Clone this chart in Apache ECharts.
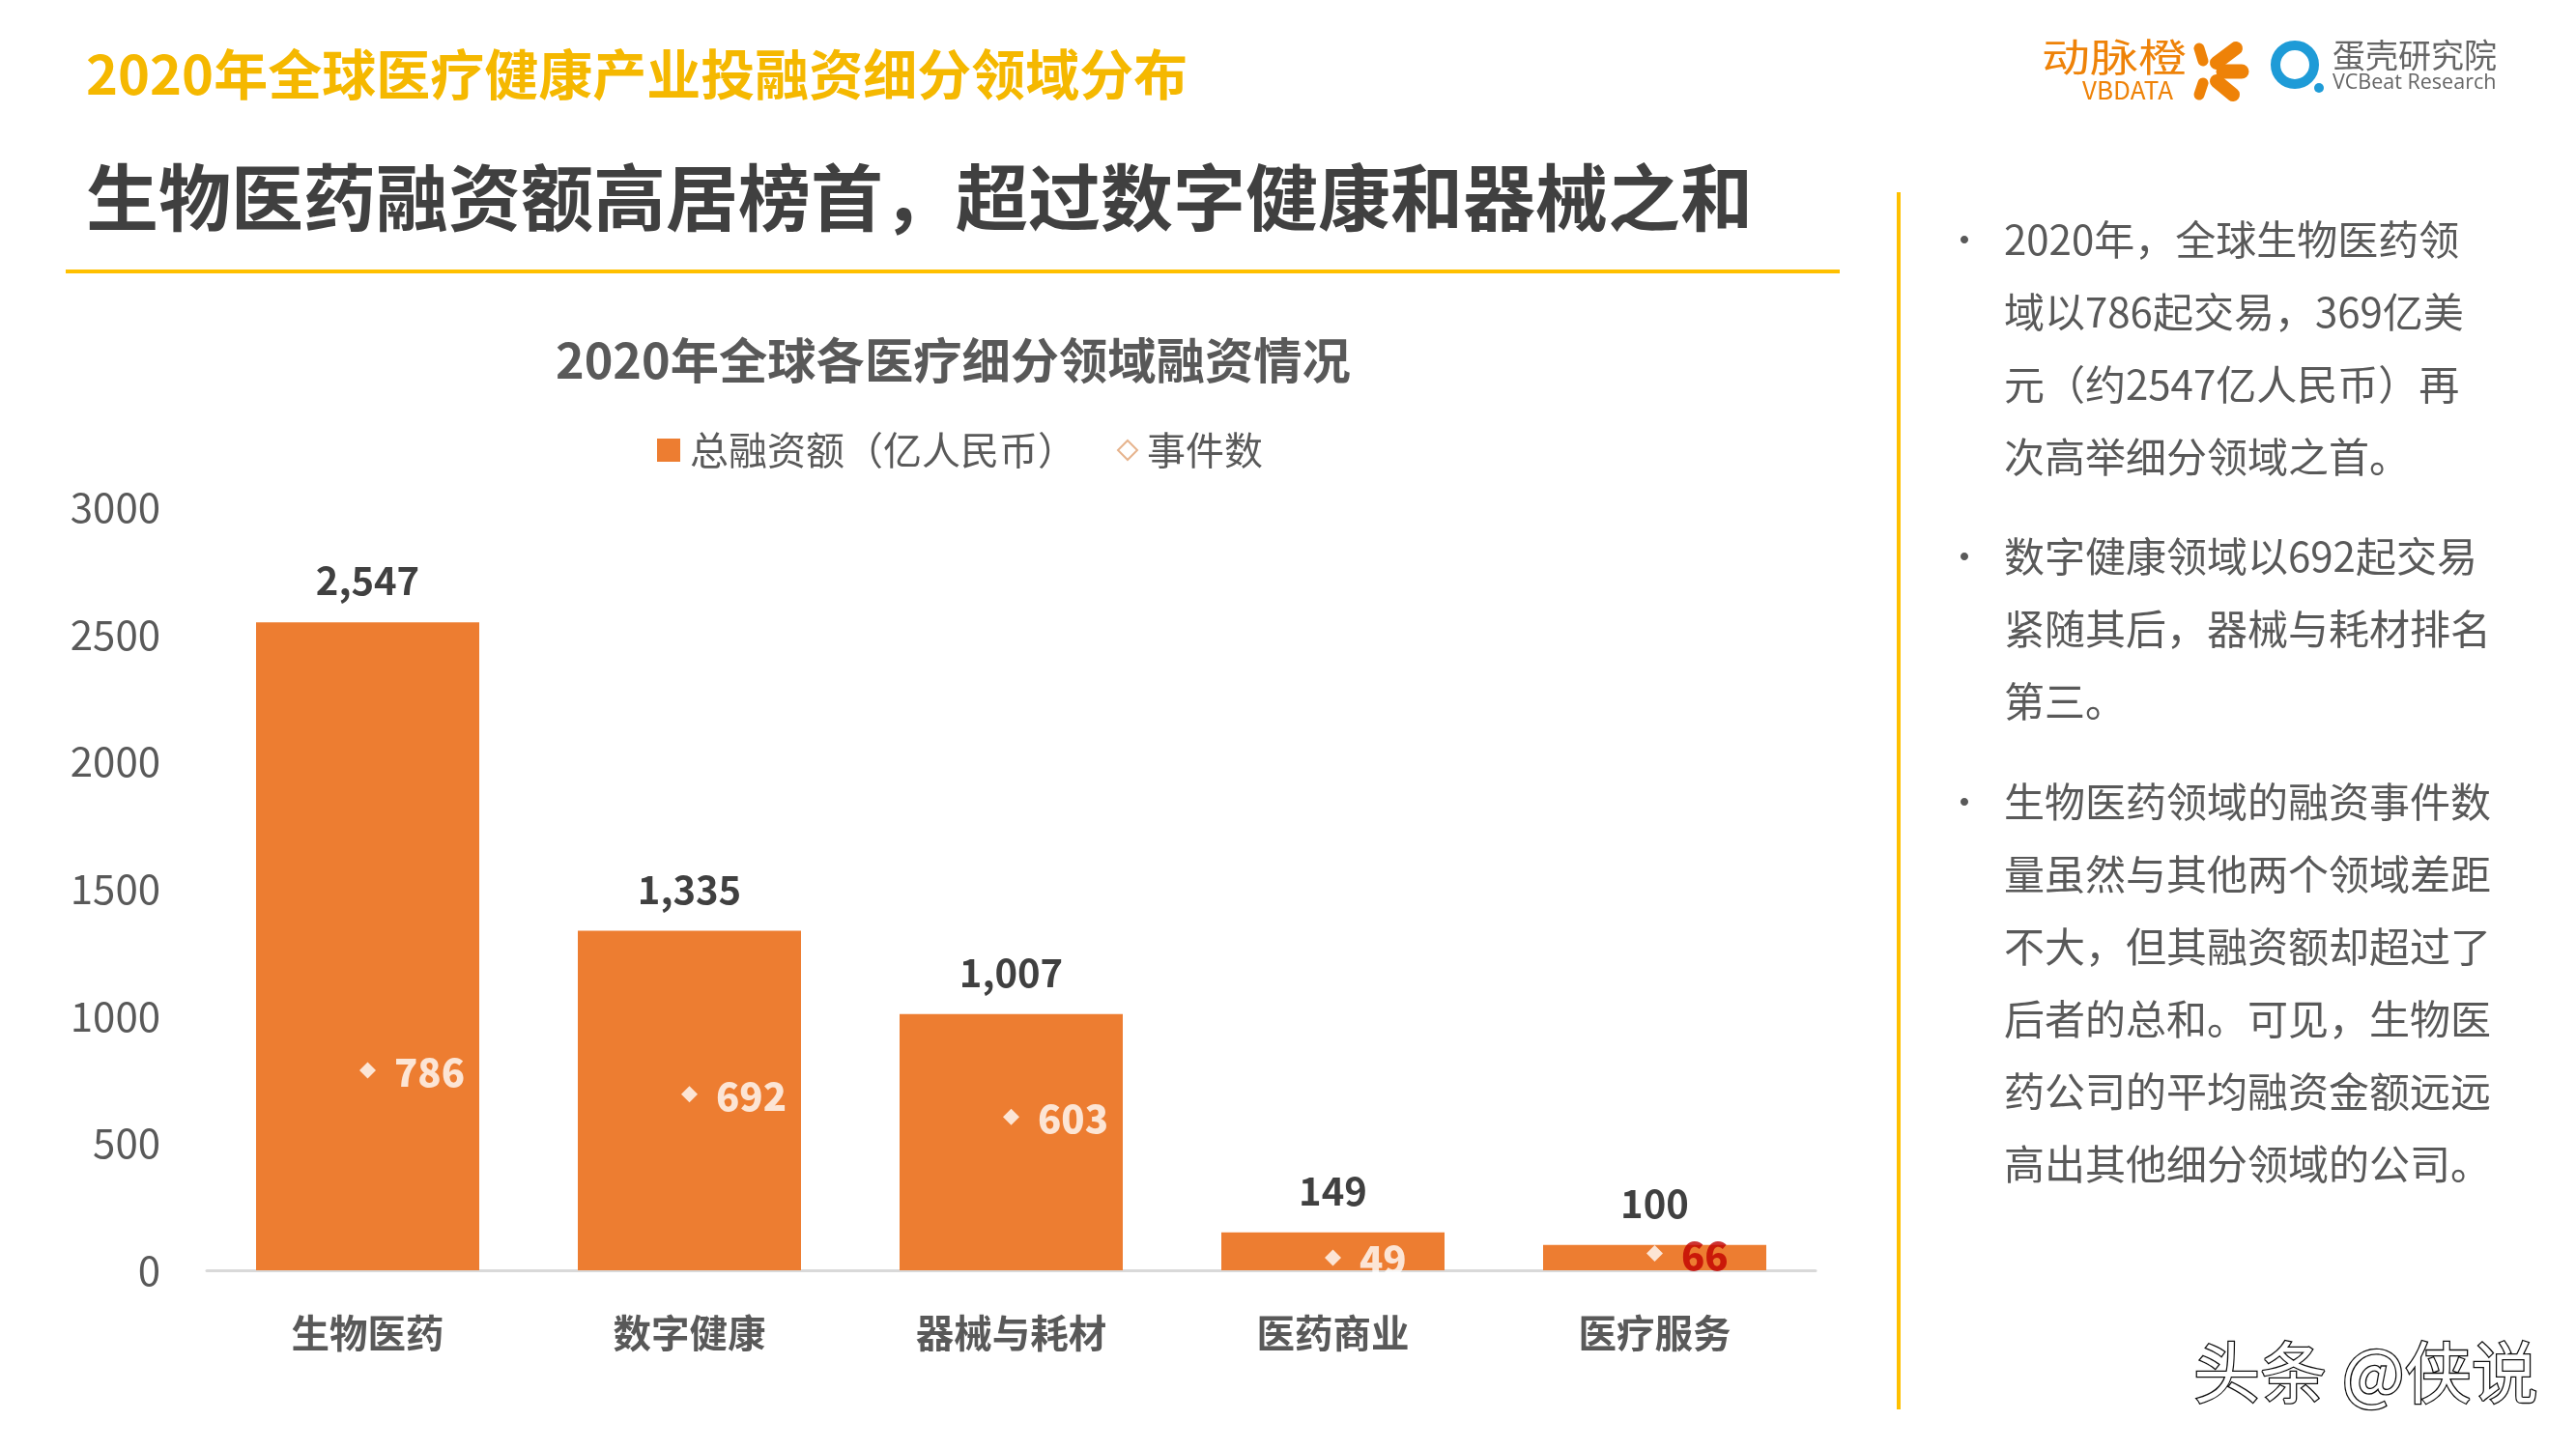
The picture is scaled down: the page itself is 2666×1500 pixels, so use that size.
<!DOCTYPE html>
<html>
<head>
<meta charset="utf-8">
<style>
  html, body { margin: 0; padding: 0; background: #fff; }
  #chart { width: 2666px; height: 1500px; }
</style>
<script src="https://cdn.jsdelivr.net/npm/echarts@6/dist/echarts.min.js"></script>
</head>
<body>
<div id="chart"></div>
<script>
var FONT = '"Noto Sans CJK SC", "Noto Sans", sans-serif'

var categories = ['生物医药', '数字健康', '器械与耗材', '医药商业', '医疗服务']
var amounts = [2547, 1335, 1007, 149, 100]
var events = [786, 692, 603, 49, 66]
var yTicks = [0, 3000, 500]
var amountName = '总融资额（亿人民币）'
var eventName = '事件数'

var pageTitle = '2020年全球医疗健康产业投融资细分领域分布'
var headline = '生物医药融资额高居榜首，超过数字健康和器械之和'
var chartTitle = '2020年全球各医疗细分领域融资情况'

var para1 = ['2020年，全球生物医药领', '域以786起交易，369亿美', '元（约2547亿人民币）再', '次高举细分领域之首。']
var para2 = ['数字健康领域以692起交易', '紧随其后，器械与耗材排名', '第三。']
var para3 = ['生物医药领域的融资事件数', '量虽然与其他两个领域差距', '不大，但其融资额却超过了', '后者的总和。可见，生物医', '药公司的平均融资金额远远', '高出其他细分领域的公司。']

var ORANGE = '#ED7D31'
var YELLOW = '#FFC000'
var TITLE_YELLOW = '#F5B800'
var LOGO_ORANGE = '#EE8208'
var GREY = '#595959'
var DARK = '#404040'

function text(x, y, str, size, color, weight, family) {
  return {
    type: 'text', x: x, y: y,
    style: {
      text: str, fontSize: size, fill: color,
      fontWeight: weight || 'normal', fontFamily: family || FONT,
      textVerticalAlign: 'middle'
    }
  }
}

function stroke(x1, y1, x2, y2, width, color, cap) {
  return {
    type: 'line',
    shape: { x1: x1, y1: y1, x2: x2, y2: y2 },
    style: { stroke: color, lineWidth: width, lineCap: cap || 'butt' }
  }
}

// 水印原图是描边字
var watermark = text(2270, 1421, '头条 @侠说', 69, '#ffffff')
watermark.style.stroke = '#111111'
watermark.style.lineWidth = 2.6

// logo 字比 Noto 扁一点
var logoName = text(2113, 59, '动脉橙', 50, LOGO_ORANGE, 'normal')
logoName.scaleY = 0.8

var graphics = [
  text(89, 77, pageTitle, 56, TITLE_YELLOW, 'bold'),
  text(89, 204, headline, 75, DARK, 'bold'),
  stroke(68, 281, 1904, 281, 4, YELLOW),
  stroke(1965, 199, 1965, 1459, 4, YELLOW),
  // logos
  logoName,
  text(2155, 93, 'VBDATA', 26, LOGO_ORANGE),
  stroke(2276, 50, 2280, 63, 11, LOGO_ORANGE, 'round'),
  stroke(2314, 50, 2294, 65, 14, LOGO_ORANGE, 'round'),
  stroke(2301, 74, 2320, 74, 15, LOGO_ORANGE, 'round'),
  stroke(2294, 84, 2311, 98, 14, LOGO_ORANGE, 'round'),
  stroke(2280, 86, 2276, 98, 11, LOGO_ORANGE, 'round'),
  { type: 'circle', shape: { cx: 2375, cy: 67, r: 20 }, style: { fill: 'none', stroke: '#1E9BD7', lineWidth: 10 } },
  { type: 'circle', shape: { cx: 2400, cy: 91, r: 5 }, style: { fill: '#1E9BD7' } },
  text(2414, 57, '蛋壳研究院', 34, '#666666'),
  text(2414, 86, 'VCBeat Research', 21.5, '#666666', 'normal', '"Open Sans", sans-serif'),
  // chart title
  text(575, 373, chartTitle, 50.3, GREY, 'bold'),
  watermark
]

// right column bullets
var LINE_GAP = 75
function addPara(lines, y0) {
  graphics.push(text(2014, y0, '•', 38, GREY))
  lines.forEach(function (line, i) {
    graphics.push(text(2074, y0 + i * LINE_GAP, line, 42, GREY))
  })
}
addPara(para1, 248)
addPara(para2, 576)
addPara(para3, 830)

var eventData = events.map(function (v, i) {
  // 最后一个标签原图是红色
  return i === events.length - 1 ? { value: v, label: { color: '#C00000' } } : v
})

var legendText = { fontSize: 40, color: GREY, fontFamily: FONT, padding: [0, 0, 0, 5] }

var option = {
  backgroundColor: '#fff',
  animation: false,
  textStyle: { fontFamily: FONT },
  legend: [
    {
      left: 675, top: 441,
      itemWidth: 24, itemHeight: 24,
      textStyle: legendText,
      data: [{ name: amountName, icon: 'rect' }]
    },
    {
      left: 1151, top: 441,
      itemWidth: 20, itemHeight: 20,
      textStyle: legendText,
      data: [{ name: eventName, icon: 'diamond', itemStyle: { color: '#fff', borderColor: '#E0A070', borderWidth: 2 } }]
    }
  ],
  grid: { left: 214, right: 787, top: 525, bottom: 185 },
  xAxis: {
    type: 'category',
    data: categories,
    axisLine: { lineStyle: { color: '#D9D9D9', width: 3 } },
    axisTick: { show: false },
    axisLabel: { fontSize: 39.5, fontWeight: 'bold', color: GREY, margin: 45, fontFamily: FONT }
  },
  yAxis: {
    type: 'value',
    min: yTicks[0], max: yTicks[1], interval: yTicks[2],
    axisLine: { show: false },
    axisTick: { show: false },
    splitLine: { show: false },
    axisLabel: {
      fontSize: 42, color: GREY, margin: 48, fontFamily: FONT,
      formatter: function (v) { return String(v) }
    }
  },
  series: [
    {
      name: amountName,
      type: 'bar',
      data: amounts,
      barWidth: 231,
      itemStyle: { color: ORANGE },
      label: {
        show: true, position: 'top', distance: 23,
        fontSize: 40, fontWeight: 'bold', color: DARK, fontFamily: FONT,
        formatter: function (p) { return p.value.toLocaleString('en-US') }
      }
    },
    {
      name: eventName,
      type: 'scatter',
      data: eventData,
      symbol: 'diamond',
      symbolSize: 17,
      itemStyle: { color: '#fff' },
      z: 5,
      label: {
        show: true, position: 'right', distance: 19, offset: [0, 2],
        fontSize: 40, fontWeight: 900, color: '#fff', fontFamily: FONT
      }
    }
  ],
  graphic: graphics
}

var myChart = echarts.init(document.getElementById('chart'))
myChart.setOption(option)
</script>
</body>
</html>
